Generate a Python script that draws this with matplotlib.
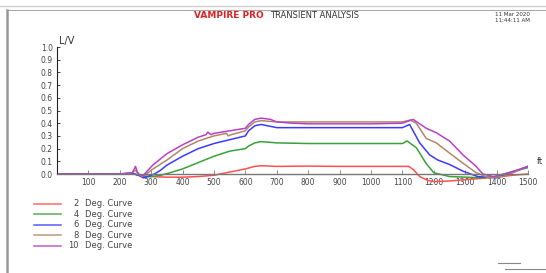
import matplotlib
matplotlib.use("Agg")
import matplotlib.pyplot as plt
from matplotlib.lines import Line2D

# ---- data ----
x_red = [0, 200, 240, 260, 280, 300, 350, 400, 450, 500, 550, 600, 630, 650, 700, 800, 900, 1000, 1100, 1120, 1135, 1155, 1180, 1200, 1250, 1300, 1350, 1400, 1450, 1500]
red = [0, 0, 0.005, -0.01, -0.015, -0.02, -0.025, -0.025, -0.02, -0.01, 0.015, 0.04, 0.06, 0.065, 0.06, 0.062, 0.06, 0.06, 0.06, 0.06, 0.035, -0.02, -0.05, -0.06, -0.055, -0.045, -0.035, -0.025, -0.01, 0.0]

x_green = [0, 200, 240, 260, 280, 300, 330, 360, 400, 450, 500, 550, 600, 610, 630, 650, 700, 800, 1000, 1100, 1115, 1145, 1175, 1200, 1250, 1300, 1350, 1400, 1450, 1500]
green = [0, 0, 0.005, -0.01, -0.02, -0.02, -0.01, 0.01, 0.04, 0.09, 0.14, 0.18, 0.20, 0.22, 0.245, 0.255, 0.245, 0.24, 0.24, 0.24, 0.26, 0.205, 0.085, 0.01, -0.02, -0.025, -0.03, -0.02, 0.02, 0.05]

x_blue = [0, 200, 240, 260, 275, 290, 310, 330, 350, 400, 450, 500, 550, 600, 610, 630, 650, 680, 700, 800, 1000, 1100, 1123, 1155, 1187, 1213, 1250, 1295, 1340, 1400, 1450, 1500]
blue = [0, 0, 0.005, -0.01, -0.03, -0.02, 0.0, 0.03, 0.07, 0.14, 0.20, 0.24, 0.27, 0.30, 0.34, 0.38, 0.39, 0.375, 0.365, 0.365, 0.365, 0.365, 0.39, 0.245, 0.15, 0.11, 0.075, 0.02, -0.02, -0.03, 0.01, 0.06]

x_brown = [0, 200, 240, 250, 260, 270, 285, 300, 350, 400, 450, 500, 540, 545, 555, 600, 610, 630, 650, 700, 800, 1000, 1100, 1125, 1144, 1176, 1208, 1250, 1293, 1335, 1375, 1420, 1460, 1500]
brown = [0, 0, 0.01, 0.03, 0.0, -0.02, 0.0, 0.03, 0.11, 0.20, 0.26, 0.30, 0.32, 0.30, 0.31, 0.34, 0.37, 0.41, 0.42, 0.41, 0.41, 0.41, 0.41, 0.425, 0.40, 0.28, 0.245, 0.165, 0.085, 0.01, -0.03, -0.02, 0.02, 0.06]

x_purple = [0, 200, 240, 250, 255, 265, 275, 290, 305, 350, 400, 450, 475, 480, 490, 500, 550, 600, 610, 630, 650, 680, 700, 750, 800, 1000, 1100, 1134, 1176, 1208, 1250, 1293, 1335, 1356, 1390, 1440, 1500]
purple = [0, 0, 0.01, 0.06, 0.02, -0.02, -0.01, 0.03, 0.07, 0.16, 0.23, 0.29, 0.31, 0.33, 0.31, 0.32, 0.34, 0.36, 0.39, 0.43, 0.44, 0.43, 0.41, 0.40, 0.395, 0.395, 0.40, 0.43, 0.36, 0.325, 0.26, 0.15, 0.06, 0.0, -0.02, 0.01, 0.06]

series = [
    ("2", x_red, red, "#ff5050"),
    ("4", x_green, green, "#3aa03a"),
    ("6", x_blue, blue, "#3a3aff"),
    ("8", x_brown, brown, "#b08868"),
    ("10", x_purple, purple, "#b840c8"),
]
x_ticks = [100, 200, 300, 400, 500, 600, 700, 800, 900, 1000, 1100, 1200, 1300, 1400, 1500]
y_ticks = [0.0, 0.1, 0.2, 0.3, 0.4, 0.5, 0.6, 0.7, 0.8, 0.9, 1.0]

W, H = 546, 273
fig = plt.figure(figsize=(W / 100, H / 100), dpi=100)
fig.patch.set_facecolor("white")

ymin, ymax = -0.08, 1.0
y0_px, y1_px = 174, 47
ppu = (y0_px - y1_px) / 1.0
bot_px = y0_px + (0 - ymin) * ppu
ax = fig.add_axes([57 / W, 1 - bot_px / H, (528 - 57) / W, (bot_px - y1_px) / H])
ax.set_xlim(0, 1500)
ax.set_ylim(ymin, ymax)

for name, xs, ys, c in series:
    ax.plot(xs, ys, color=c, lw=1.1)

for s in ["top", "right"]:
    ax.spines[s].set_visible(False)
ax.spines["bottom"].set_position(("data", 0))
ax.spines["bottom"].set_color("#777777")
ax.spines["bottom"].set_linewidth(1.0)
ax.spines["left"].set_bounds(0, 1.0)
ax.spines["left"].set_color("#222222")
ax.spines["left"].set_linewidth(0.8)
ax.set_xticks(x_ticks)
ax.set_xticklabels([str(v) for v in x_ticks])
ax.set_yticks(y_ticks)
ax.set_yticklabels([f"{v:.1f}" for v in y_ticks])
ax.tick_params(axis="x", direction="in", length=3, width=0.6, colors="#777777", labelcolor="#444444", labelsize=5.5, pad=3)
ax.tick_params(axis="y", direction="in", length=2, width=0.6, colors="#222222", labelcolor="#444444", labelsize=5.5, pad=3)
ax.set_zorder(2)

# header
fig.text(229 / W, 1 - 16 / H, "VAMPIRE PRO", color="#e02020", fontsize=6.5, fontweight="heavy",
         ha="center", va="center")
fig.text(270 / W, 1 - 16 / H, "TRANSIENT ANALYSIS", color="#333333", fontsize=6, ha="left", va="center")
fig.text(495 / W, 1 - 14 / H, "11 Mar 2020", color="#333333", fontsize=4, ha="left", va="center")
fig.text(495 / W, 1 - 20 / H, "11:44:11 AM", color="#333333", fontsize=4, ha="left", va="center")
fig.text(59 / W, 1 - 41 / H, "L/V", color="#333333", fontsize=7, ha="left", va="center")
fig.text(537 / W, 1 - 162 / H, "ft", color="#333333", fontsize=6, ha="left", va="center")

# legend
for i, (name, xs, ys, c) in enumerate(series):
    yp = 1 - (204 + i * 10.4) / H
    fig.add_artist(Line2D([34 / W, 61 / W], [yp, yp], color=c, lw=1.1, alpha=0.85))
    fig.text(79 / W, yp, name, color="#444444", fontsize=6, ha="right", va="center")
    fig.text(85 / W, yp, "Deg. Curve", color="#444444", fontsize=6, ha="left", va="center")

# frame lines
fig.add_artist(Line2D([0, 1], [1 - 6 / H, 1 - 6 / H], color="#cccccc", lw=1.0))
fig.add_artist(Line2D([7 / W, 1], [1 - 10 / H, 1 - 10 / H], color="#aaaaaa", lw=0.8))
fig.add_artist(Line2D([7 / W, 7 / W], [1 - 10 / H, 0], color="#999999", lw=1.8))
fig.add_artist(Line2D([498 / W, 520 / W], [1 - 263 / H, 1 - 263 / H], color="#888888", lw=0.8))
fig.add_artist(Line2D([505 / W, 1], [1 - 269 / H, 1 - 269 / H], color="#888888", lw=0.8))

fig.savefig("out.png", dpi=100)
